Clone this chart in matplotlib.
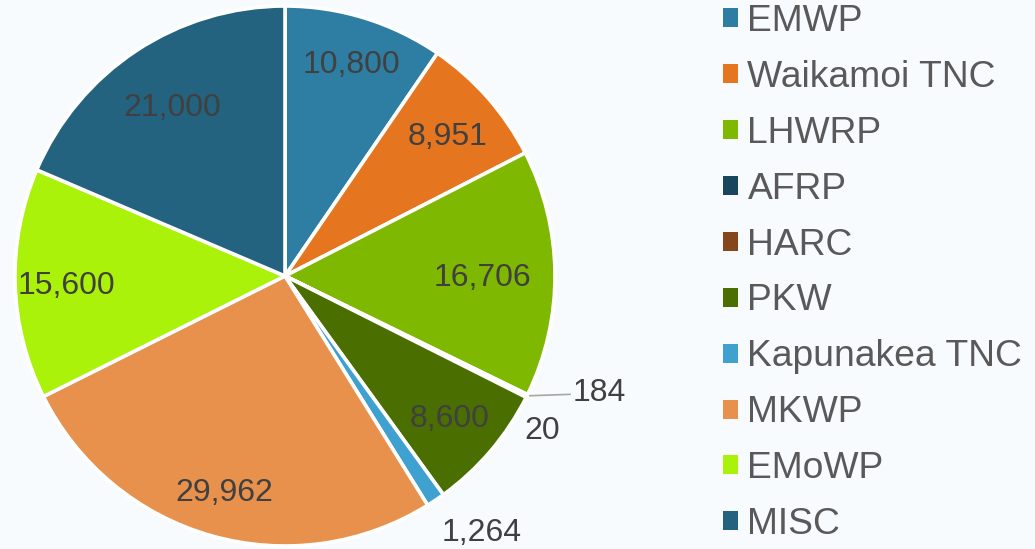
import numpy as np
import matplotlib
matplotlib.use("Agg")
import matplotlib.pyplot as plt
from matplotlib.patches import Patch

categories = ["EMWP", "Waikamoi TNC", "LHWRP", "AFRP", "HARC", "PKW",
              "Kapunakea TNC", "MKWP", "EMoWP", "MISC"]
values = [10800, 8951, 16706, 184, 20, 8600, 1264, 29962, 15600, 21000]
value_labels = ["10,800", "8,951", "16,706", "184", "20", "8,600",
                "1,264", "29,962", "15,600", "21,000"]
colors = ["#2e7ea3", "#e5751f", "#7fb800", "#17465e", "#84461a", "#4a6e00",
          "#3fa1cf", "#e8914c", "#aaf20a", "#23637f"]

# label placement style: radial fraction for inside labels, pixel offsets for outside
inside_frac = {0: 0.83, 1: 0.80, 2: 0.73, 5: 0.80, 7: 0.82, 8: 0.81, 9: 0.76}
outside_offset = {3: (46, 6), 4: (16, -30), 6: (46, -29)}

W, H = 1035, 549
fig = plt.figure(figsize=(W / 100, H / 100), dpi=100)
fig.patch.set_facecolor("#f8fbfd")

cx, cy, r = 285, 276, 270
ax = fig.add_axes([(cx - r) / W, (H - cy - r) / H, 2 * r / W, 2 * r / H])
ax.set_facecolor("none")
wedges, _ = ax.pie(values, colors=colors, startangle=90, counterclock=False,
                   radius=1.0, wedgeprops=dict(edgecolor="white", linewidth=2.6))
ax.set_xlim(-1, 1)
ax.set_ylim(-1, 1)
ax.set_aspect("equal")
ax.axis("off")

txt_color = "#404040"
for i, w in enumerate(wedges):
    mid = np.deg2rad((w.theta1 + w.theta2) / 2)
    if i in inside_frac:
        f = inside_frac[i]
        ax.text(f * np.cos(mid), f * np.sin(mid), value_labels[i],
                ha="center", va="center_baseline", fontsize=23, color=txt_color,
                family="Liberation Sans")
    else:
        ex, ey = np.cos(mid), np.sin(mid)
        dx, dy = outside_offset[i]
        if i == 3:
            ax.annotate(value_labels[i], xy=(ex, ey), xytext=(dx, dy),
                        textcoords="offset pixels", ha="left", va="center_baseline",
                        fontsize=23, color=txt_color, family="Liberation Sans",
                        arrowprops=dict(arrowstyle="-", color="#a6a6a6", lw=1.2,
                                        shrinkA=0, shrinkB=2))
        else:
            ax.annotate(value_labels[i], xy=(ex, ey), xytext=(dx, dy),
                        textcoords="offset pixels", ha="center", va="center_baseline",
                        fontsize=23, color=txt_color, family="Liberation Sans")

handles = [Patch(facecolor=c, edgecolor="none") for c in colors]
leg = fig.legend(handles, categories, loc="upper left",
                 bbox_to_anchor=(708 / W, 1 + 11 / H), frameon=False,
                 prop=dict(family="Liberation Sans", size=26.8),
                 handlelength=0.41, handleheight=0.41, handletextpad=0.25,
                 labelspacing=0.562, borderaxespad=0)
for t in leg.get_texts():
    t.set_color("#595959")

fig.savefig("out.png", dpi=100, facecolor=fig.get_facecolor())
